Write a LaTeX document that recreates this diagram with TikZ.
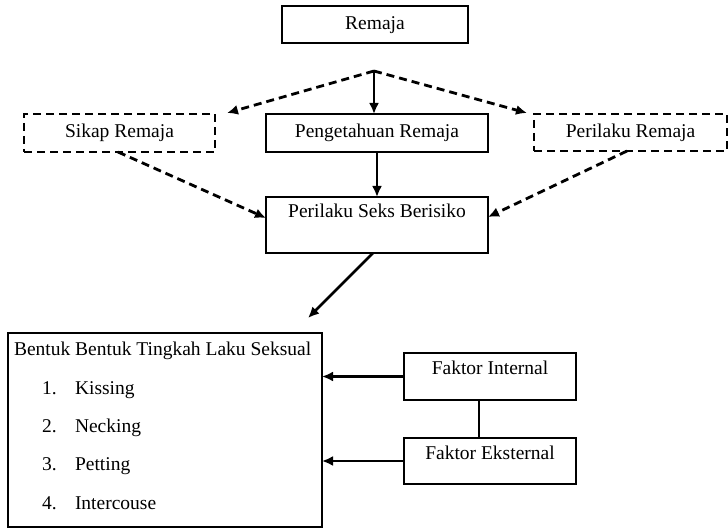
\documentclass[tikz,border=0pt]{standalone}
\usepackage{fontspec}
\setmainfont{Liberation Serif}
\usetikzlibrary{arrows.meta}
\tikzset{
boxstyle/.style={rectangle, draw, line width=2.4pt, inner sep=0pt, outer sep=0pt, fill=white},
dashbox/.style={boxstyle, dash pattern=on 8pt off 5pt},
textstyle/.style={inner sep=0pt, outer sep=0pt, anchor=base west},
arr/.style={line width=2.8pt, -{Latex[length=11pt,width=10pt]}},
darr/.style={arr, dash pattern=on 8pt off 5pt}
}
\begin{document}
\begin{tikzpicture}[x=1pt, y=-1pt, font=\fontsize{19.5}{22}\selectfont]
\useasboundingbox (0,0) rectangle (728,529);

\node [boxstyle, minimum width=186, minimum height=37, text depth=3pt] (remaja) at (375,24.5) {Remaja};
\coordinate (split) at (374,71);

\node [dashbox, minimum width=191, minimum height=38] (sikap) at (119.5,133) {Sikap Remaja};
\node [boxstyle, minimum width=222, minimum height=38] (tahu) at (377,133) {Pengetahuan Remaja};
\node [dashbox, minimum width=193, minimum height=37] (laku) at (630.5,132.5) {Perilaku Remaja};

\node [boxstyle, minimum width=222, minimum height=56, text depth=28pt] (seks) at (377,225) {Perilaku Seks Berisiko};

\node [boxstyle, minimum width=314, minimum height=194] (bentuk) at (165,430) {};
\node [textstyle] (judul) at (14,355) {Bentuk Bentuk Tingkah Laku Seksual};
\node [textstyle] (n1) at (42,394) {1.};
\node [textstyle] (k1) at (75,394) {Kissing};
\node [textstyle] (n2) at (42,432) {2.};
\node [textstyle] (k2) at (75,432) {Necking};
\node [textstyle] (n3) at (42,470) {3.};
\node [textstyle] (k3) at (75,470) {Petting};
\node [textstyle] (n4) at (42,509) {4.};
\node [textstyle] (k4) at (75,509) {Intercouse};

\node [boxstyle, minimum width=172, minimum height=47, text depth=17pt] (internal) at (490,376.5) {Faktor Internal};
\node [boxstyle, minimum width=172, minimum height=46, text depth=17pt] (eksternal) at (490,461) {Faktor Eksternal};

\draw [arr] (split) -- (split |- tahu.north);
\draw [darr] (split) -- ([xshift=12pt,yshift=1pt]sikap.north east);
\draw [darr] (split) -- ([xshift=-7pt,yshift=1pt]laku.north west);

\draw [arr] (tahu.south) -- (seks.north);
\draw [darr] ([xshift=-1.5pt]sikap.south) -- ([yshift=7pt]seks.west);
\draw [darr] ([xshift=-3.5pt]laku.south) -- ([yshift=8pt]seks.east);

\coordinate (tip) at (308,318);
\draw [arr] ([xshift=-4pt]seks.south) -- (tip);

\draw [arr] (internal.west) -- (bentuk.east |- internal.west);
\draw [arr] (eksternal.west) -- (bentuk.east |- eksternal.west);
\draw [line width=2.8pt] ([xshift=-11pt]internal.south) -- ([xshift=-11pt]eksternal.north);

\end{tikzpicture}
\end{document}
